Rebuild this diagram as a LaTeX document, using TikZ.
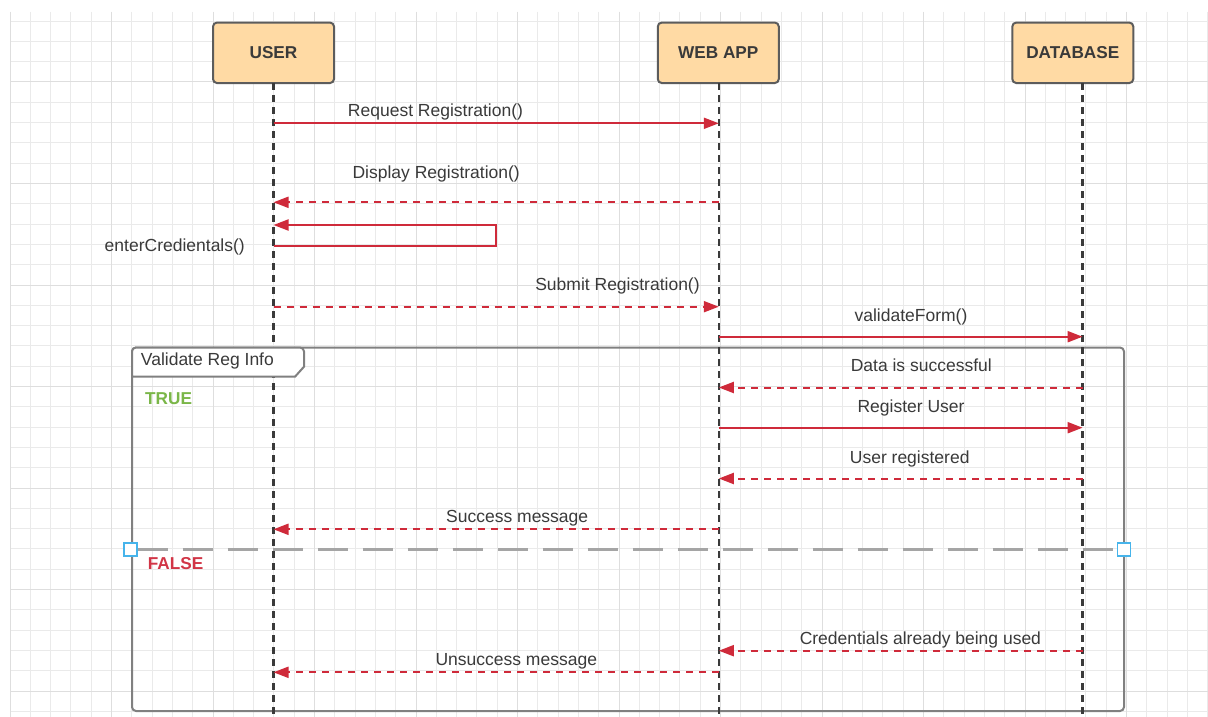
\documentclass[tikz,border=0pt]{standalone}
\usepackage{fontspec}
\setmainfont{Liberation Sans}
\usetikzlibrary{arrows.meta}

\definecolor{msgred}{RGB}{207,42,58}
\definecolor{txt}{RGB}{58,58,58}
\definecolor{boxfill}{RGB}{255,218,164}
\definecolor{boxline}{RGB}{92,92,92}
\definecolor{framegray}{RGB}{128,128,128}
\definecolor{sepgray}{RGB}{165,165,165}
\definecolor{truegreen}{RGB}{122,182,72}
\definecolor{falsered}{RGB}{209,53,70}
\definecolor{handleblue}{RGB}{70,180,235}
\definecolor{gridminor}{RGB}{234,234,234}
\definecolor{gridmajor}{RGB}{222,222,222}

\begin{document}
\begin{tikzpicture}[x=1pt,y=-1pt,
  actor/.style={draw=boxline, line width=2pt, fill=boxfill, rounded corners=4pt,
    minimum width=121pt, minimum height=60.5pt, inner sep=0pt,
    font=\fontsize{17.2}{20}\selectfont\bfseries, text=txt},
  lifeline/.style={draw=txt, line width=2.3pt, dash pattern=on 7pt off 5pt},
  call/.style={draw=msgred, line width=2pt, -{Triangle[length=15pt,width=11pt]}},
  reply/.style={call, dash pattern=on 7pt off 6pt},
  lbl/.style={font=\fontsize{17.5}{20}\selectfont, text=txt, inner sep=0pt, anchor=base},
  guard/.style={font=\fontsize{17.2}{20}\selectfont\bfseries, inner sep=0pt, anchor=base west},
  framebox/.style={draw=framegray, line width=2pt},
  separator/.style={draw=sepgray, line width=3pt, dash pattern=on 30pt off 15pt},
  handle/.style={draw=handleblue, line width=1.8pt, fill=white, minimum size=13pt, inner sep=0pt},
  gridmin/.style={draw=gridminor, line width=1pt},
  gridmaj/.style={draw=gridmajor, line width=1pt}
]
\useasboundingbox (0,0) rectangle (1208,717);
\fill[white] (0,0) rectangle (1208,717);

% background grid
\begin{scope}
  \clip (10,12) rectangle (1208,717);
  \foreach \i in {0,...,59}{
    \pgfmathsetmacro\gx{10+20.3*\i}
    \draw[gridmin] (\gx,12) -- (\gx,717);
  }
  \foreach \k in {0,...,34}{
    \pgfmathsetmacro\gy{21.1+20.3*\k}
    \draw[gridmin] (10,\gy) -- (1208,\gy);
  }
  \foreach \i in {0,5,...,55}{
    \pgfmathsetmacro\gx{10+20.3*\i}
    \draw[gridmaj] (\gx,12) -- (\gx,717);
  }
  \foreach \k in {3,8,...,33}{
    \pgfmathsetmacro\gy{21.1+20.3*\k}
    \draw[gridmaj] (10,\gy) -- (1208,\gy);
  }
\end{scope}

% combined fragment frame
\draw[framebox, rounded corners=4pt] (132,347.5) rectangle (1124,711);

% participants
\node[actor] (user) at (273.5,52.8) {USER};
\node[actor] (web)  at (718.3,52.8) {WEB APP};
\node[actor] (db)   at (1072.8,52.8) {DATABASE};

% lifeline anchors
\coordinate (uL) at (273.5,83);
\coordinate (wL) at (718.8,83);
\coordinate (dL) at (1082.6,83);
\coordinate (bottom) at (0,717);

\draw[lifeline] (uL) -- (uL |- bottom);
\draw[lifeline] (wL) -- (wL |- bottom);
\draw[lifeline] (dL) -- (dL |- bottom);

% fragment name tab
\draw[framebox, fill=white] (132,376.7) -- (132,351.5) [rounded corners=4pt] -- (132,347.5) -- (304,347.5) [sharp corners] -- (304,366.7) -- (295,376.7) -- cycle;
\node[lbl, anchor=base west] (fragname) at (140.7,365.7) {Validate Reg Info};

% message levels
\coordinate (m1) at (0,123.3);
\coordinate (m2) at (0,202.3);
\coordinate (s1) at (0,225);
\coordinate (s2) at (0,245.7);
\coordinate (sr) at (495.7,0);
\coordinate (m4) at (0,306.7);
\coordinate (m5) at (0,336.7);
\coordinate (m6) at (0,387.5);
\coordinate (m7) at (0,427.7);
\coordinate (m8) at (0,478.5);
\coordinate (m9) at (0,529.3);
\coordinate (m10) at (0,650.7);
\coordinate (m11) at (0,672.3);

\draw[call]  (uL |- m1) -- (wL |- m1);
\draw[reply] (wL |- m2) -- (uL |- m2);
\draw[call]  (uL |- s2) -- (sr |- s2) -- (sr |- s1) -- (uL |- s1);
\draw[reply] (uL |- m4) -- (wL |- m4);
\draw[call]  (wL |- m5) -- (dL |- m5);
\draw[reply] (dL |- m6) -- (wL |- m6);
\draw[call]  (wL |- m7) -- (dL |- m7);
\draw[reply] (dL |- m8) -- (wL |- m8);
\draw[reply] (wL |- m9) -- (uL |- m9);
\draw[reply] (dL |- m10) -- (wL |- m10);
\draw[reply] (wL |- m11) -- (uL |- m11);

% message labels
\node[lbl] (t1) at (435.5,116.7) {Request Registration()};
\node[lbl] (t2) at (436.2,178.3) {Display Registration()};
\node[lbl, anchor=base east] (t3) at (245,251.7) {enterCredientals()};
\node[lbl] (t4) at (617.5,290.7) {Submit Registration()};
\node[lbl] (t5) at (911,321.7) {validateForm()};
\node[lbl] (t6) at (921.3,371.7) {Data is successful};
\node[lbl] (t7) at (911,412.7) {Register User};
\node[lbl] (t8) at (909.7,463.3) {User registered};
\node[lbl] (t9) at (517.2,522.3) {Success message};
\node[lbl] (t10) at (920.4,644) {Credentials already being used};
\node[lbl] (t11) at (516.3,665) {Unsuccess message};

% guards
\node[guard, text=truegreen] (gtrue) at (145,404) {TRUE};
\node[guard, text=falsered] (gfalse) at (147.7,569) {FALSE};

% operand separator with its end handles
\node[handle] (hl) at (130.5,549.3) {};
\node[handle] (hr) at (1124,549.3) {};
\draw[separator] (hl.east) -- (hr.west);
\end{tikzpicture}
\end{document}
